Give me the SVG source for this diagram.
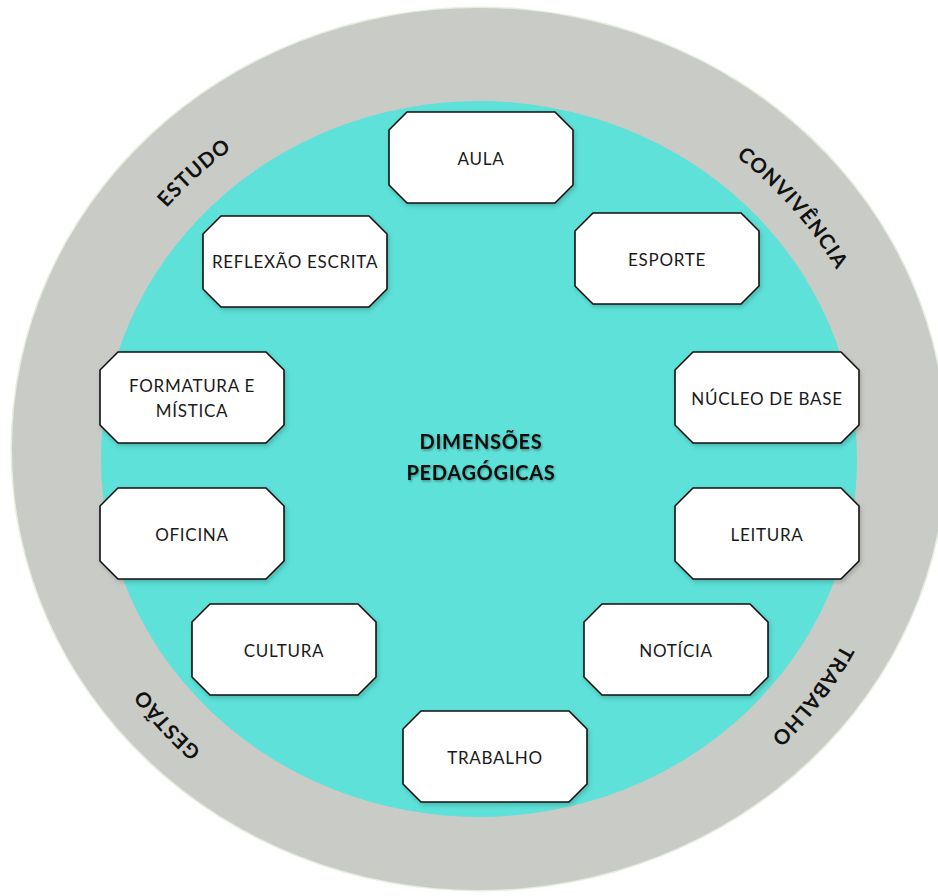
<svg xmlns="http://www.w3.org/2000/svg" xmlns:xlink="http://www.w3.org/1999/xlink" width="938" height="896" viewBox="0 0 938 896">
  <style>
    .box { fill: #ffffff; stroke: #111111; stroke-width: 1.6; filter: url(#sh); }
    .lbl { font-family: Lato, "Open Sans", "Liberation Sans", sans-serif; font-size: 17px; fill: #1a1a1a; text-anchor: middle; letter-spacing: 0.7px; }
    .title { font-family: Lato, "Open Sans", "Liberation Sans", sans-serif; font-size: 20px; font-weight: bold; fill: #111111; text-anchor: middle; letter-spacing: 0.7px; }
    .ring { font-family: Lato, "Open Sans", "Liberation Sans", sans-serif; font-size: 20.5px; font-weight: bold; fill: #111111; text-anchor: middle; letter-spacing: 1px; }
  </style>
  <defs>
    <filter id="sh" x="-10%" y="-10%" width="125%" height="130%">
      <feDropShadow dx="1.5" dy="2.5" stdDeviation="2" flood-color="#000000" flood-opacity="0.18"/>
    </filter>
    <filter id="tsh" x="-10%" y="-20%" width="120%" height="150%">
      <feDropShadow dx="1" dy="1.5" stdDeviation="1" flood-color="#000000" flood-opacity="0.35"/>
    </filter>
    <polygon id="oct" points="18,0 166,0 184,18 184,73 166,91 18,91 0,73 0,18"/>
    <path id="ringPath" d="M 69 462 A 410 392 0 1 1 889 462 A 410 392 0 1 1 69 462 Z" fill="none"/>
  </defs>

  <g id="background">
    <ellipse cx="479" cy="449" rx="468.5" ry="442.5" fill="#e6eee0"/>
    <ellipse cx="479" cy="449" rx="467" ry="441" fill="#c9cbc6"/>
    <ellipse cx="479" cy="459" rx="378" ry="358" fill="#5de1d8"/>
  </g>

  <g id="ring-labels">
    <text class="ring"><textPath xlink:href="#ringPath" href="#ringPath" startOffset="12.8%">ESTUDO</textPath></text>
    <text class="ring"><textPath xlink:href="#ringPath" href="#ringPath" startOffset="39%">CONVIVÊNCIA</textPath></text>
    <text class="ring"><textPath xlink:href="#ringPath" href="#ringPath" startOffset="59.9%">TRABALHO</textPath></text>
    <text class="ring"><textPath xlink:href="#ringPath" href="#ringPath" startOffset="88.7%">GESTÃO</textPath></text>
  </g>

  <g id="center-title" filter="url(#tsh)">
    <text class="title" x="481" y="449">DIMENSÕES</text>
    <text class="title" x="481" y="480">PEDAGÓGICAS</text>
  </g>

  <g id="connectors"></g>

  <g id="node-aula">
    <use href="#oct" xlink:href="#oct" class="box" x="389" y="112"/>
    <text class="lbl" x="481" y="165">AULA</text>
  </g>
  <g id="node-esporte">
    <use href="#oct" xlink:href="#oct" class="box" x="575" y="213"/>
    <text class="lbl" x="667" y="266">ESPORTE</text>
  </g>
  <g id="node-reflexao">
    <use href="#oct" xlink:href="#oct" class="box" x="203" y="216"/>
    <text class="lbl" x="295" y="268">REFLEXÃO ESCRITA</text>
  </g>
  <g id="node-formatura">
    <use href="#oct" xlink:href="#oct" class="box" x="100" y="352"/>
    <text class="lbl" x="192" y="391.5">FORMATURA E</text>
    <text class="lbl" x="192" y="417">MÍSTICA</text>
  </g>
  <g id="node-nucleo">
    <use href="#oct" xlink:href="#oct" class="box" x="675" y="352"/>
    <text class="lbl" x="767" y="405">NÚCLEO DE BASE</text>
  </g>
  <g id="node-oficina">
    <use href="#oct" xlink:href="#oct" class="box" x="100" y="488"/>
    <text class="lbl" x="192" y="541">OFICINA</text>
  </g>
  <g id="node-leitura">
    <use href="#oct" xlink:href="#oct" class="box" x="675" y="488"/>
    <text class="lbl" x="767" y="541">LEITURA</text>
  </g>
  <g id="node-cultura">
    <use href="#oct" xlink:href="#oct" class="box" x="192" y="604"/>
    <text class="lbl" x="284" y="657">CULTURA</text>
  </g>
  <g id="node-noticia">
    <use href="#oct" xlink:href="#oct" class="box" x="584" y="604"/>
    <text class="lbl" x="676" y="657">NOTÍCIA</text>
  </g>
  <g id="node-trabalho">
    <use href="#oct" xlink:href="#oct" class="box" x="403" y="711"/>
    <text class="lbl" x="495" y="764">TRABALHO</text>
  </g>
</svg>
